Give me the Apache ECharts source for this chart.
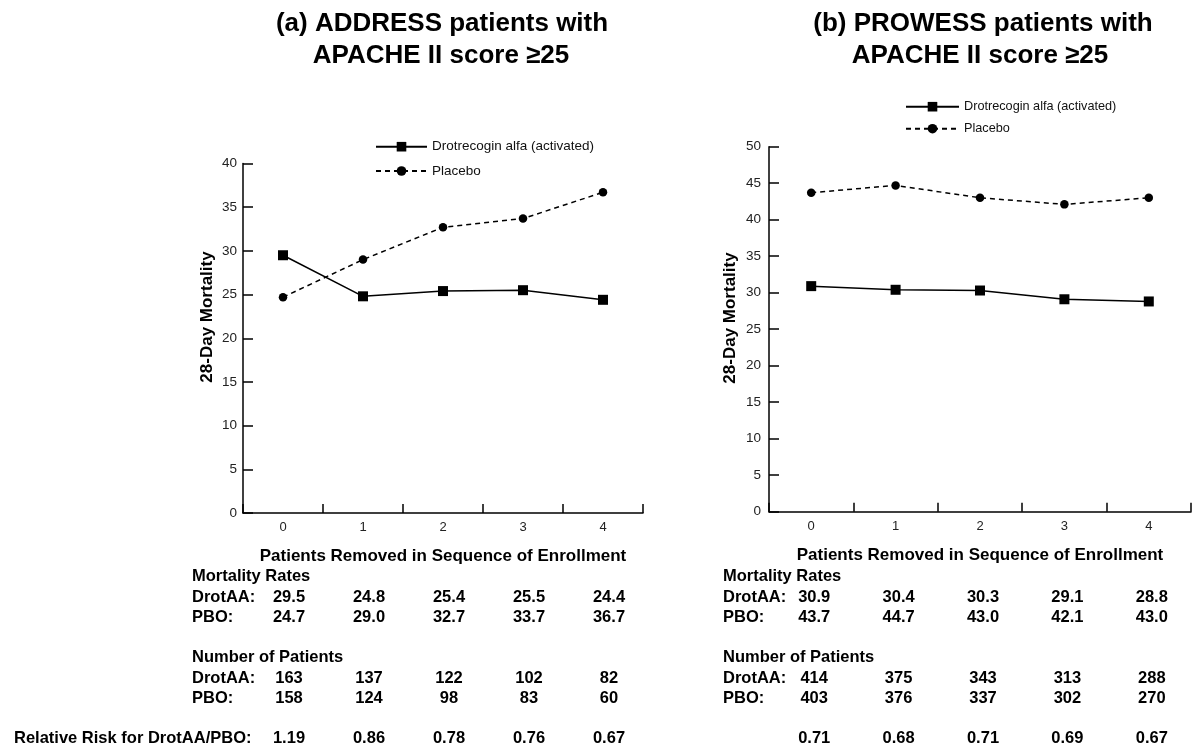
<!DOCTYPE html>
<html><head><meta charset="utf-8">
<script src="https://cdn.jsdelivr.net/npm/echarts@6/dist/echarts.min.js"></script>
<style>html,body{margin:0;padding:0;background:#fff}#c{width:1200px;height:754px}</style>
</head><body><div id="c"></div>
<script>
// ---- data ----
const categories = ['0', '1', '2', '3', '4'];
const seriesNames = ['Drotrecogin alfa (activated)', 'Placebo'];

const addressDrotRate = [29.5, 24.8, 25.4, 25.5, 24.4];
const addressPboRate  = [24.7, 29.0, 32.7, 33.7, 36.7];
const addressDrotN    = [163, 137, 122, 102, 82];
const addressPboN     = [158, 124, 98, 83, 60];
const addressRR       = ['1.19', '0.86', '0.78', '0.76', '0.67'];

const prowessDrotRate = [30.9, 30.4, 30.3, 29.1, 28.8];
const prowessPboRate  = [43.7, 44.7, 43.0, 42.1, 43.0];
const prowessDrotN    = [414, 375, 343, 313, 288];
const prowessPboN     = [403, 376, 337, 302, 270];
const prowessRR       = ['0.71', '0.68', '0.71', '0.69', '0.67'];

const titleA = ['(a) ADDRESS patients with', 'APACHE II score ≥25'];
const titleB = ['(b) PROWESS patients with', 'APACHE II score ≥25'];
const yName = '28-Day Mortality';
const xName = 'Patients Removed in Sequence of Enrollment';

// ---- chart ----
const FONT = '"Liberation Sans", Arial, Helvetica, sans-serif';
const chart = echarts.init(document.getElementById('c'), null, {renderer: 'canvas'});

function xAxisCfg(gridIndex) {
  return {
    type: 'category', gridIndex, data: categories, boundaryGap: true,
    axisLine: {lineStyle: {color: '#000', width: 1.5}},
    axisTick: {show: true, inside: true, length: 9, lineStyle: {color: '#000', width: 1.5}},
    axisLabel: {color: '#222', fontSize: 13, fontFamily: FONT, margin: 8},
    splitLine: {show: false},
    name: xName, nameLocation: 'middle', nameGap: 35,
    nameTextStyle: {color: '#000', fontSize: 17, fontWeight: 'bold', fontFamily: FONT}
  };
}
function yAxisCfg(gridIndex, max, margin) {
  return {
    type: 'value', gridIndex, min: 0, max, interval: 5,
    axisLine: {show: true, lineStyle: {color: '#000', width: 1.5}},
    axisTick: {show: true, inside: true, length: 10, lineStyle: {color: '#000', width: 1.5}},
    axisLabel: {color: '#222', fontSize: 13.5, fontFamily: FONT, margin},
    splitLine: {show: false}
  };
}
function lineSeries(name, data, idx, dashed) {
  return {
    type: 'line', name, data, xAxisIndex: idx, yAxisIndex: idx,
    symbol: dashed ? 'circle' : 'rect', symbolSize: dashed ? 8.5 : 10,
    itemStyle: {color: '#000'},
    lineStyle: {color: '#000', width: 1.5, type: dashed ? [5, 4] : 'solid'},
    emphasis: {disabled: true}, animation: false
  };
}

chart.setOption({
  animation: false,
  backgroundColor: '#fff',
  grid: [
    {left: 243, top: 163.5, width: 400, height: 349.5},
    {left: 769, top: 146.7, width: 422, height: 365}
  ],
  xAxis: [xAxisCfg(0), xAxisCfg(1)],
  yAxis: [yAxisCfg(0, 40, 6), yAxisCfg(1, 50, 8)],
  legend: [
    {orient: 'vertical', left: 375, top: 139.7, padding: 0, itemWidth: 51, itemHeight: 12, itemGap: 10.3,
     data: seriesNames, selectedMode: false,
     textStyle: {color: '#111', fontSize: 13.5, fontFamily: FONT}},
    {orient: 'vertical', left: 905, top: 100.2, padding: 0, itemWidth: 53, itemHeight: 12, itemGap: 9,
     data: seriesNames, selectedMode: false,
     textStyle: {color: '#111', fontSize: 12.7, fontFamily: FONT}}
  ],
  series: [
    lineSeries(seriesNames[0], addressDrotRate, 0, false),
    lineSeries(seriesNames[1], addressPboRate, 0, true),
    lineSeries(seriesNames[0], prowessDrotRate, 1, false),
    lineSeries(seriesNames[1], prowessPboRate, 1, true)
  ]
});

// ---- texts: titles, y names, table ----
const g = [];
function txt(text, x, y, opts) {
  opts = opts || {};
  g.push({
    type: 'text', x, y, rotation: opts.rotation || 0, silent: true,
    style: {
      text, fill: '#000', fontFamily: FONT,
      fontSize: opts.size || 16.5, fontWeight: opts.weight || 'bold',
      textAlign: opts.align || 'left', textVerticalAlign: 'middle'
    }
  });
}
// titles
txt(titleA[0], 442, 24, {size: 26, align: 'center'});
txt(titleA[1], 441, 56, {size: 26, align: 'center'});
txt(titleB[0], 983, 24, {size: 26, align: 'center'});
txt(titleB[1], 980, 56, {size: 26, align: 'center'});
// y axis names
txt(yName, 207, 317, {size: 17, align: 'center', rotation: Math.PI / 2});
txt(yName, 730, 318, {size: 17, align: 'center', rotation: Math.PI / 2});

const rowsY = {mort: 576, drot1: 597, pbo1: 617, num: 657, drot2: 678, pbo2: 698, rr: 738};
function table(idx, labelX, offset, drotRate, pboRate, drotN, pboN, rr, rrLabel) {
  txt('Mortality Rates', labelX, rowsY.mort);
  txt('DrotAA:', labelX, rowsY.drot1);
  txt('PBO:', labelX, rowsY.pbo1);
  txt('Number of Patients', labelX, rowsY.num);
  txt('DrotAA:', labelX, rowsY.drot2);
  txt('PBO:', labelX, rowsY.pbo2);
  if (rrLabel) txt(rrLabel, 14, rowsY.rr);
  categories.forEach((c, i) => {
    const x = chart.convertToPixel({xAxisIndex: idx}, i) + offset;
    txt(drotRate[i].toFixed(1), x, rowsY.drot1, {align: 'center'});
    txt(pboRate[i].toFixed(1), x, rowsY.pbo1, {align: 'center'});
    txt(String(drotN[i]), x, rowsY.drot2, {align: 'center'});
    txt(String(pboN[i]), x, rowsY.pbo2, {align: 'center'});
    txt(rr[i], x, rowsY.rr, {align: 'center'});
  });
}
table(0, 192, 6, addressDrotRate, addressPboRate, addressDrotN, addressPboN, addressRR, 'Relative Risk for DrotAA/PBO:');
table(1, 723, 3, prowessDrotRate, prowessPboRate, prowessDrotN, prowessPboN, prowessRR, null);

chart.setOption({graphic: g});
</script>
</body></html>
